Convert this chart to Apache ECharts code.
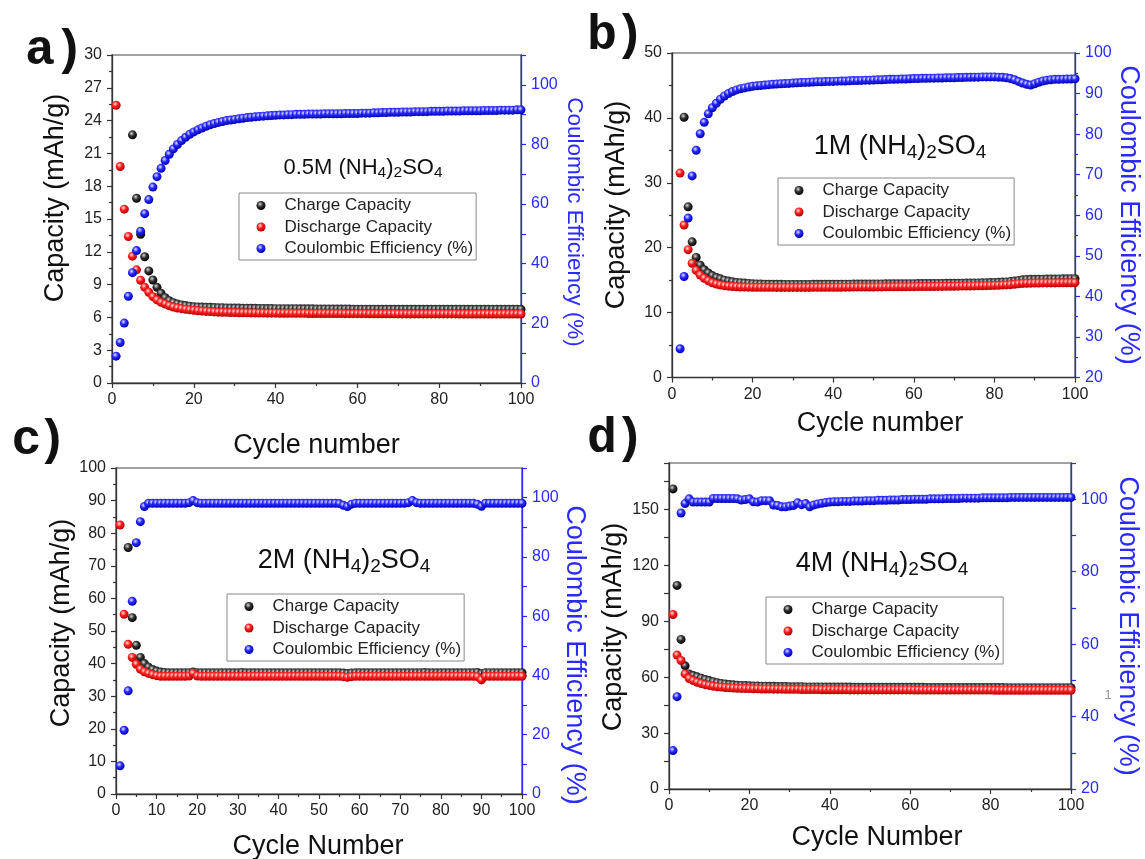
<!DOCTYPE html>
<html><head><meta charset="utf-8">
<script src="https://cdn.jsdelivr.net/npm/echarts@6/dist/echarts.min.js"></script>
<style>html,body{margin:0;padding:0;background:#fff}#c{width:1145px;height:859px}</style>
</head><body><div id="c"></div>
<script>
// ---------- DATA (cycle n = index + 1) ----------
const seriesNames = ['Charge Capacity', 'Discharge Capacity', 'Coulombic Efficiency (%)'];
const panelLetters = ['a', 'b', 'c', 'd'];
const electrolytes = ['0.5M', '1M', '2M', '4M'];
const xAxisNames = ['Cycle number', 'Cycle number', 'Cycle Number', 'Cycle Number'];
const leftAxisName = 'Capacity (mAh/g)';
const rightAxisName = 'Coulombic Efficiency (%)';

// panel a) 0.5M
const aCharge = [
  null,null,null,null,22.7,16.9,13.6,11.55,10.25,9.42,
  8.75,8.2,7.8,7.53,7.35,7.23,7.14,7.08,7.03,6.98,
  6.96,6.94,6.93,6.92,6.91,6.89,6.88,6.87,6.86,6.85,
  6.85,6.84,6.84,6.83,6.83,6.82,6.82,6.81,6.81,6.8,
  6.8,6.8,6.79,6.79,6.79,6.78,6.78,6.78,6.78,6.77,
  6.77,6.77,6.77,6.76,6.76,6.76,6.76,6.76,6.75,6.75,
  6.75,6.75,6.75,6.75,6.75,6.74,6.74,6.74,6.74,6.74,
  6.74,6.74,6.74,6.74,6.74,6.74,6.74,6.74,6.74,6.74,
  6.74,6.74,6.74,6.74,6.74,6.74,6.74,6.74,6.74,6.74,
  6.74,6.74,6.74,6.74,6.74,6.74,6.74,6.74,6.74,6.74];
const aDischarge = [
  25.4,19.8,15.9,13.4,11.6,10.35,9.4,8.75,8.3,7.9,
  7.6,7.38,7.23,7.07,6.95,6.86,6.8,6.74,6.69,6.65,
  6.61,6.58,6.55,6.53,6.5,6.48,6.47,6.46,6.45,6.44,
  6.43,6.42,6.42,6.41,6.41,6.4,6.4,6.39,6.39,6.39,
  6.38,6.38,6.38,6.37,6.37,6.37,6.37,6.36,6.36,6.36,
  6.36,6.35,6.35,6.35,6.35,6.35,6.34,6.34,6.34,6.34,
  6.34,6.34,6.33,6.33,6.33,6.33,6.33,6.33,6.33,6.32,
  6.32,6.32,6.32,6.32,6.32,6.32,6.32,6.32,6.32,6.32,
  6.32,6.32,6.32,6.32,6.31,6.31,6.31,6.31,6.31,6.31,
  6.31,6.31,6.31,6.31,6.31,6.31,6.31,6.31,6.31,6.31];
const aCE = [
  9.0,13.6,20.1,29.1,37.0,44.4,50.9,56.8,61.5,65.7,
  69.2,72.0,74.6,76.7,78.5,80.0,81.3,82.4,83.4,84.2,
  84.9,85.5,86.1,86.6,87.0,87.4,87.7,88.0,88.2,88.4,
  88.6,88.8,89.0,89.1,89.3,89.4,89.5,89.6,89.7,89.8,
  89.9,89.9,90.0,90.0,90.1,90.1,90.1,90.2,90.2,90.2,
  90.2,90.3,90.3,90.3,90.3,90.3,90.4,90.4,90.4,90.4,
  90.5,90.5,90.5,90.6,90.6,90.7,90.7,90.8,90.8,90.8,
  90.9,90.9,90.9,91.0,91.0,91.0,91.0,91.1,91.1,91.1,
  91.1,91.2,91.2,91.2,91.2,91.3,91.3,91.3,91.3,91.3,
  91.4,91.4,91.4,91.4,91.5,91.5,91.5,91.5,91.6,91.6];

// panel b) 1M
const bCharge = [
  null,null,40.1,26.3,20.9,18.5,17.3,16.6,16.1,15.7,
  15.4,15.2,15.0,14.85,14.75,14.65,14.6,14.55,14.5,14.45,
  14.42,14.4,14.38,14.37,14.36,14.35,14.35,14.34,14.34,14.34,
  14.34,14.34,14.34,14.34,14.35,14.35,14.35,14.36,14.36,14.36,
  14.37,14.37,14.38,14.38,14.39,14.39,14.4,14.4,14.41,14.41,
  14.42,14.42,14.43,14.43,14.44,14.44,14.45,14.45,14.46,14.46,
  14.47,14.47,14.48,14.48,14.49,14.5,14.5,14.51,14.52,14.52,
  14.53,14.54,14.55,14.56,14.57,14.58,14.6,14.61,14.63,14.65,
  14.67,14.7,14.73,14.78,14.85,14.95,15.05,15.1,15.12,15.13,
  15.14,15.15,15.16,15.17,15.18,15.19,15.2,15.21,15.22,15.23];
const bDischarge = [
  null,31.5,23.5,19.7,17.6,16.5,15.8,15.3,14.9,14.6,
  14.4,14.25,14.15,14.07,14.02,13.98,13.95,13.93,13.92,13.91,
  13.9,13.9,13.89,13.89,13.89,13.88,13.88,13.88,13.88,13.88,
  13.88,13.88,13.88,13.88,13.89,13.89,13.89,13.9,13.9,13.9,
  13.91,13.91,13.92,13.92,13.93,13.93,13.94,13.94,13.95,13.95,
  13.96,13.96,13.97,13.97,13.98,13.98,13.99,13.99,14.0,14.0,
  14.01,14.01,14.02,14.02,14.03,14.04,14.04,14.05,14.06,14.06,
  14.07,14.08,14.09,14.1,14.11,14.12,14.14,14.15,14.17,14.19,
  14.21,14.24,14.27,14.31,14.37,14.44,14.5,14.53,14.54,14.55,
  14.56,14.57,14.57,14.58,14.58,14.59,14.59,14.6,14.6,14.61];
const bCE = [
  null,27.1,44.9,59.3,69.7,76.0,80.1,82.9,85.0,86.5,
  87.6,88.6,89.4,90.0,90.5,90.9,91.2,91.4,91.6,91.8,
  91.9,92.0,92.1,92.2,92.3,92.35,92.4,92.45,92.5,92.6,
  92.65,92.7,92.75,92.8,92.85,92.9,92.9,92.95,93.0,93.0,
  93.05,93.1,93.1,93.15,93.2,93.2,93.25,93.3,93.3,93.35,
  93.4,93.4,93.45,93.5,93.5,93.55,93.6,93.6,93.65,93.7,
  93.7,93.75,93.75,93.8,93.8,93.85,93.85,93.9,93.9,93.9,
  93.95,93.95,94.0,94.0,94.05,94.05,94.1,94.1,94.1,94.1,
  94.05,94.0,93.9,93.7,93.4,93.0,92.6,92.3,92.1,92.4,
  92.8,93.1,93.3,93.4,93.5,93.5,93.55,93.6,93.6,93.65];

// panel c) 2M
const cCharge = [
  null,null,75.6,54.1,45.6,41.9,40.0,38.9,38.2,37.7,
  37.4,37.3,37.2,37.2,37.2,37.2,37.2,37.2,37.4,37.2,
  37.2,37.2,37.2,37.2,37.2,37.2,37.2,37.2,37.2,37.2,
  37.3,37.2,37.2,37.2,37.2,37.2,37.2,37.2,37.2,37.2,
  37.2,37.2,37.2,37.2,37.2,37.2,37.2,37.2,37.2,37.2,
  37.2,37.2,37.2,37.2,37.2,37.1,37.0,37.1,37.2,37.2,
  37.2,37.2,37.2,37.2,37.2,37.2,37.2,37.2,37.2,37.2,
  37.2,37.2,37.2,37.2,37.2,37.3,37.2,37.2,37.2,37.2,
  37.2,37.2,37.2,37.2,37.2,37.2,37.2,37.2,37.3,36.9,
  37.2,37.2,37.2,37.2,37.2,37.2,37.2,37.2,37.2,37.2];
const cDischarge = [
  82.5,55.1,45.9,41.9,39.8,38.3,37.5,37.0,36.6,36.3,
  36.1,36.1,36.1,36.1,36.1,36.1,36.1,36.2,37.0,36.2,
  36.1,36.1,36.1,36.1,36.1,36.1,36.1,36.1,36.1,36.1,
  36.1,36.1,36.1,36.1,36.1,36.1,36.1,36.1,36.1,36.1,
  36.1,36.1,36.1,36.1,36.1,36.1,36.1,36.1,36.1,36.1,
  36.1,36.1,36.1,36.1,36.1,36.0,35.8,36.0,36.1,36.1,
  36.1,36.1,36.1,36.1,36.1,36.1,36.1,36.1,36.1,36.1,
  36.1,36.1,36.1,36.1,36.1,36.1,36.1,36.1,36.1,36.1,
  36.1,36.1,36.1,36.1,36.1,36.1,36.1,36.1,36.0,35.0,
  36.1,36.1,36.1,36.1,36.1,36.1,36.1,36.1,36.1,36.1];
const cCE = [
  9.5,21.5,34.8,65.0,84.8,91.9,97.0,98.1,98.1,98.1,
  98.1,98.1,98.1,98.1,98.1,98.1,98.1,98.3,99.0,98.3,
  98.1,98.1,98.1,98.1,98.1,98.1,98.1,98.1,98.1,98.1,
  98.1,98.1,98.1,98.1,98.1,98.1,98.1,98.1,98.1,98.1,
  98.1,98.1,98.1,98.1,98.1,98.1,98.1,98.1,98.1,98.1,
  98.1,98.1,98.1,98.1,98.0,97.4,97.0,97.8,98.1,98.1,
  98.1,98.1,98.1,98.1,98.1,98.1,98.1,98.1,98.1,98.1,
  98.1,98.3,99.0,98.3,98.1,98.1,98.1,98.1,98.1,98.1,
  98.1,98.1,98.1,98.1,98.1,98.1,98.1,98.1,97.8,97.1,
  98.1,98.1,98.1,98.1,98.1,98.1,98.1,98.1,98.1,98.1];

// panel d) 4M
const dCharge = [
  161.1,109.3,80.3,66.1,61.8,60.9,60.2,59.5,58.8,58.2,
  57.6,57.1,56.7,56.4,56.1,55.9,55.7,55.6,55.5,55.4,
  55.3,55.3,55.2,55.2,55.1,55.1,55.0,55.0,55.0,54.9,
  54.9,54.9,54.9,54.8,54.8,54.8,54.8,54.8,54.7,54.7,
  54.7,54.7,54.7,54.7,54.7,54.6,54.6,54.6,54.6,54.6,
  54.6,54.6,54.6,54.6,54.6,54.6,54.6,54.6,54.6,54.6,
  54.6,54.6,54.6,54.5,54.5,54.5,54.5,54.5,54.5,54.5,
  54.5,54.5,54.5,54.5,54.5,54.5,54.5,54.5,54.5,54.5,
  54.5,54.5,54.5,54.4,54.4,54.4,54.4,54.4,54.4,54.4,
  54.4,54.4,54.4,54.4,54.4,54.4,54.4,54.4,54.4,54.4];
const dDischarge = [
  93.7,71.9,69.0,61.8,59.3,58.2,57.3,56.6,56.0,55.6,
  55.2,54.9,54.7,54.5,54.3,54.2,54.1,54.0,53.9,53.9,
  53.8,53.8,53.7,53.7,53.7,53.6,53.6,53.6,53.5,53.5,
  53.5,53.5,53.4,53.4,53.4,53.4,53.4,53.3,53.3,53.3,
  53.3,53.3,53.3,53.3,53.2,53.2,53.2,53.2,53.2,53.2,
  53.2,53.2,53.2,53.2,53.2,53.2,53.2,53.2,53.2,53.2,
  53.1,53.1,53.1,53.1,53.1,53.1,53.1,53.1,53.1,53.1,
  53.1,53.1,53.1,53.1,53.1,53.1,53.1,53.1,53.1,53.1,
  53.0,53.0,53.0,53.0,53.0,53.0,53.0,53.0,53.0,53.0,
  53.0,53.0,53.0,53.0,53.0,53.0,53.0,53.0,53.0,53.0];
const dCE = [
  30.6,45.5,96.2,98.8,100.1,99.2,99.2,99.2,99.2,99.2,
  100.2,100.2,100.2,100.2,100.2,100.2,100.1,99.8,99.9,100.1,
  99.3,99.2,99.6,99.6,99.6,98.4,98.3,97.9,97.9,98.1,
  98.3,99.0,98.5,98.8,97.9,98.4,98.7,98.9,99.1,99.2,
  99.3,99.3,99.4,99.4,99.4,99.5,99.5,99.5,99.6,99.6,
  99.6,99.7,99.7,99.7,99.8,99.8,99.8,99.9,99.9,99.9,
  100.0,100.0,100.0,100.0,100.1,100.1,100.1,100.1,100.2,100.2,
  100.2,100.2,100.3,100.3,100.3,100.3,100.3,100.4,100.4,100.4,
  100.4,100.4,100.4,100.4,100.5,100.5,100.5,100.5,100.5,100.5,
  100.5,100.5,100.5,100.5,100.5,100.5,100.5,100.5,100.5,100.5];

const panelData = [
  [aCharge, aDischarge, aCE],
  [bCharge, bDischarge, bCE],
  [cCharge, cDischarge, cCE],
  [dCharge, dDischarge, dCE]
];

// ---------- LAYOUT / STYLE ----------
const FONT = '"Liberation Sans", Arial, sans-serif';
const MONO = '"Liberation Mono", "Courier New", monospace';
const BLUE = '#2b2bff';
const DARK = '#222';

const layout = [
  { grid: {left:112, top:55, width:409, height:328},
    x: {interval:20, minor:2},
    yL: {min:0, max:30, interval:3, minor:2, step:3},
    yR: {min:0, max:110, interval:10, step:20, labelMax:100},
    legend: {left:239, top:193, pl:17.5},
    sub: {x:363, y:169, size:22, subSize:15.5, subLH:7},
    letter: {x1:40, x2:69, y:51},
    names: {l:[56,198,27], r:[574,222,22.5], b:[316.5,446,27]} },
  { grid: {left:672, top:53, width:403, height:324.5},
    x: {interval:20, minor:2},
    yL: {min:0, max:50, interval:10, minor:2, step:10},
    yR: {min:20, max:100, interval:10, minor:2, step:10, labelMax:100},
    legend: {left:778, top:178, pl:16.5},
    sub: {x:900, y:148, size:27, subSize:19, subLH:11},
    letter: {x1:602, x2:629.5, y:36},
    names: {l:[617,205,27], r:[1128,215,27], b:[880,424,27]} },
  { grid: {left:116, top:468, width:406, height:326},
    x: {interval:10, minor:2},
    yL: {min:0, max:100, interval:10, minor:2, step:10},
    yR: {min:0, max:110, interval:10, step:20, labelMax:100},
    legend: {left:227, top:594, pl:17.5},
    sub: {x:344, y:562, size:27, subSize:19, subLH:11},
    letter: {x1:26.5, x2:52, y:441},
    names: {l:[62,623,27], r:[574,655,27], b:[318,847,27]} },
  { grid: {left:669, top:463, width:402, height:326},
    x: {interval:20, minor:2},
    yL: {min:0, max:175, interval:15, step:30, labelMax:150},
    yR: {min:20, max:110, interval:10, step:20, labelMax:100},
    legend: {left:766, top:597, pl:17.5},
    sub: {x:882, y:565, size:27, subSize:19, subLH:11},
    letter: {x1:602, x2:629.5, y:439},
    names: {l:[614,627,27], r:[1127,626,27], b:[877,838,27]} }
];

function ball(c0, c1, c2) {
  return { type:'radial', x:0.4, y:0.35, r:0.65,
    colorStops:[{offset:0,color:c0},{offset:0.45,color:c1},{offset:1,color:c2}] };
}
const colors = [ball('#d8d8d8','#333','#000'), ball('#ffe2e2','#ff2020','#b00000'), ball('#e2e2ff','#2a2aff','#0000b0')];

function stepFmt(step, maxL) {
  return function (v) {
    const r = v / step;
    if (Math.abs(r - Math.round(r)) < 1e-6 && (maxL === undefined || v <= maxL + 1e-6)) return String(v);
    return '';
  };
}

const grids = [], xAxes = [], yAxes = [], series = [], legends = [], graphics = [];
layout.forEach((p, k) => {
  grids.push(Object.assign({show:true, borderColor:'#444', borderWidth:1.2, backgroundColor:'transparent'}, p.grid));
  xAxes.push({
    type:'value', gridIndex:k, min:0, max:100, interval:p.x.interval,
    axisLine:{onZero:false, lineStyle:{color:'#333', width:1.3}},
    axisTick:{show:true, length:5, lineStyle:{color:'#333', width:1.2}},
    minorTick:{show:true, splitNumber:p.x.minor, length:3, lineStyle:{color:'#333', width:1.2}},
    splitLine:{show:false},
    axisLabel:{color:DARK, fontSize:16, fontFamily:FONT, margin:9, showMinLabel:true, showMaxLabel:true}
  });
  const L = p.yL, R = p.yR;
  yAxes.push({
    type:'value', gridIndex:k, position:'left', min:L.min, max:L.max, interval:L.interval,
    axisLine:{show:true, onZero:false, lineStyle:{color:'#333', width:1.3}},
    axisTick:{show:true, length:5, lineStyle:{color:'#333', width:1.2}},
    minorTick:{show:!!L.minor, splitNumber:L.minor || 5, length:3, lineStyle:{color:'#333', width:1.2}},
    splitLine:{show:false},
    axisLabel:{color:DARK, fontSize:16, fontFamily:FONT, margin:10, formatter:stepFmt(L.step, L.labelMax), showMaxLabel:true}
  });
  yAxes.push({
    type:'value', gridIndex:k, position:'right', min:R.min, max:R.max, interval:R.interval,
    axisLine:{show:true, onZero:false, lineStyle:{color:BLUE, width:1.3}},
    axisTick:{show:true, length:5, lineStyle:{color:BLUE, width:1.2}},
    minorTick:{show:!!R.minor, splitNumber:R.minor || 5, length:3, lineStyle:{color:BLUE, width:1.2}},
    splitLine:{show:false},
    axisLabel:{color:BLUE, fontSize:16, fontFamily:FONT, margin:10, formatter:stepFmt(R.step, R.labelMax), showMaxLabel:true}
  });
  panelData[k].forEach((arr, s) => {
    const pts = [];
    arr.forEach((v, i) => { if (v !== null) pts.push([i + 1, v]); });
    series.push({
      type:'scatter', name:seriesNames[s], xAxisIndex:k, yAxisIndex: s === 2 ? 2*k+1 : 2*k,
      data:pts, symbol:'circle', symbolSize:9, z:2 + s,
      itemStyle:{color:colors[s], opacity:1}
    });
  });
  legends.push({
    data:seriesNames, orient:'vertical', left:p.legend.left, top:p.legend.top,
    icon:'circle', itemWidth:37, itemHeight:9, itemGap:4.5, padding:[4,3,3,p.legend.pl],
    borderColor:'#888', borderWidth:1, selectedMode:false, backgroundColor:'transparent',
    textStyle:{fontSize:17, lineHeight:17, color:DARK, fontFamily:FONT}
  });
  const s = p.sub;
  graphics.push({
    type:'text', x:s.x, y:s.y, z:10,
    style:{
      text:'{n|' + electrolytes[k] + ' (NH}{s|4}{n|)}{s|2}{n|SO}{s|4}',
      align:'center', verticalAlign:'middle',
      rich:{
        n:{fontSize:s.size, fontFamily:FONT, fill:'#111', lineHeight:s.size + 2, verticalAlign:'top'},
        s:{fontSize:s.subSize, fontFamily:FONT, fill:'#111', lineHeight:s.subLH, verticalAlign:'bottom'}
      }
    }
  });
  graphics.push({
    type:'text', x:p.letter.x1, y:p.letter.y, z:10,
    style:{text:panelLetters[k], fontSize:50, fontWeight:'bold', fontFamily:MONO, fill:'#111', align:'center', verticalAlign:'middle'}
  });
  graphics.push({
    type:'text', x:p.letter.x2, y:p.letter.y, z:10,
    style:{text:')', fontSize:50, fontWeight:'bold', fontFamily:MONO, fill:'#111', align:'center', verticalAlign:'middle'}
  });
  const nm = p.names;
  graphics.push({type:'text', x:nm.l[0], y:nm.l[1], rotation:Math.PI/2, z:10,
    style:{text:leftAxisName, fontSize:nm.l[2], fontFamily:FONT, fill:'#111', align:'center', verticalAlign:'middle'}});
  graphics.push({type:'text', x:nm.r[0], y:nm.r[1], rotation:-Math.PI/2, z:10,
    style:{text:rightAxisName, fontSize:nm.r[2], fontFamily:FONT, fill:BLUE, align:'center', verticalAlign:'middle'}});
  graphics.push({type:'text', x:nm.b[0], y:nm.b[1], z:10,
    style:{text:xAxisNames[k], fontSize:nm.b[2], fontFamily:FONT, fill:'#111', align:'center', verticalAlign:'middle'}});
});
graphics.push({type:'text', x:1108, y:695, z:10,
  style:{text:'1', fontSize:13, fontFamily:FONT, fill:'#999', align:'center', verticalAlign:'middle'}});

const chart = echarts.init(document.getElementById('c'), null, {renderer:'canvas'});
chart.setOption({
  animation:false,
  backgroundColor:'#fff',
  textStyle:{fontFamily:FONT},
  grid:grids, xAxis:xAxes, yAxis:yAxes, series:series, legend:legends, graphic:graphics
});
</script></body></html>
